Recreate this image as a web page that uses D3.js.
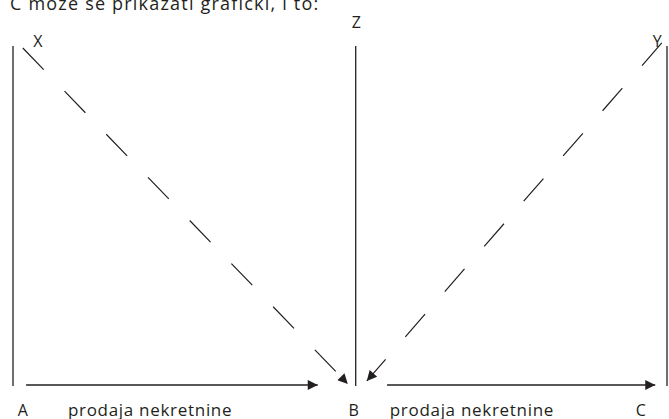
<!DOCTYPE html>
<html>
<head>
<meta charset="utf-8">
<script src="https://cdn.jsdelivr.net/npm/d3@7"></script>
<style>
  body { margin: 0; background: #fff; }
  text { font-family: "Open Sans", "Noto Sans", sans-serif; fill: #231f20; }
</style>
</head>
<body>
<div id="chart"></div>
<script>
// market points on the horizontal axis (0..100 units)
const points = ['A', 'B', 'C'];
const pointPos = [0, 52.4, 100];
const pointLabelPos = [1.5, 52.1, 96.0];
// labels above the vertical lines
const topLabels = ['X', 'Z', 'Y'];
const topLabelPos = [3.8, 52.5, 98.5];
// sale arrows along the bottom
const flowLabel = 'prodaja nekretnine';
const flowLabelPos = [8.4, 57.6];
const flows = [
    {from: 2.0, to: 46.6},
    {from: 57.2, to: 98.2}
];
// dashed arrows from the top corners down to B
const dashed = [
    {x1: 1.5, y1: 99.4, x2: 51.2, y2: 0.6},
    {x1: 99.2, y1: 100.9, x2: 54.1, y2: 1.5}
];
const caption = 'C može se prikazati grafički, i to:';

const W = 669, H = 419;
const margin = {top: 46, right: 2, bottom: 33, left: 13};

const x = d3.scaleLinear().domain([0, 100]).range([margin.left, W - margin.right]);
const y = d3.scaleLinear().domain([0, 100]).range([H - margin.bottom, margin.top]);

const svg = d3.select('#chart')
    .append('svg')
    .attr('width', W)
    .attr('height', H);

svg.append('defs').append('marker')
    .attr('id', 'head')
    .attr('viewBox', '0 0 10 10')
    .attr('refX', 10)
    .attr('refY', 5)
    .attr('markerWidth', 15)
    .attr('markerHeight', 10)
    .attr('markerUnits', 'userSpaceOnUse')
    .attr('orient', 'auto')
    .append('path')
    .attr('d', 'M0,0 L10,5 L0,10 z')
    .attr('fill', '#231f20');

// caption, cut off at the top like the scan
svg.append('text')
    .attr('x', 10)
    .attr('y', 10)
    .attr('font-size', '18px')
    .attr('letter-spacing', '1.2px')
    .text(caption);

// vertical lines
svg.selectAll('.vline')
    .data(pointPos)
    .enter().append('line')
    .attr('class', 'vline')
    .attr('x1', d => x(d)).attr('x2', d => x(d))
    .attr('y1', y(0)).attr('y2', y(100))
    .attr('stroke', '#231f20')
    .attr('stroke-width', 1.3);

// dashed arrows
svg.selectAll('.dash')
    .data(dashed)
    .enter().append('line')
    .attr('class', 'dash')
    .attr('x1', d => x(d.x1)).attr('y1', d => y(d.y1))
    .attr('x2', d => x(d.x2)).attr('y2', d => y(d.y2))
    .attr('stroke', '#231f20')
    .attr('stroke-width', 1.2)
    .attr('stroke-dasharray', '30,30')
    .attr('marker-end', 'url(#head)');

// solid sale arrows
svg.selectAll('.flow')
    .data(flows)
    .enter().append('line')
    .attr('class', 'flow')
    .attr('x1', d => x(d.from)).attr('x2', d => x(d.to))
    .attr('y1', y(0.3)).attr('y2', y(0.3))
    .attr('stroke', '#231f20')
    .attr('stroke-width', 1.3)
    .attr('marker-end', 'url(#head)');

// flow labels
svg.selectAll('.flowlabel')
    .data(flowLabelPos)
    .enter().append('text')
    .attr('class', 'flowlabel')
    .attr('x', d => x(d))
    .attr('y', H - 3)
    .attr('font-size', '17px')
    .attr('letter-spacing', '0.7px')
    .text(flowLabel);

// point labels
svg.selectAll('.plabel')
    .data(points)
    .enter().append('text')
    .attr('class', 'plabel')
    .attr('x', (d, i) => x(pointLabelPos[i]))
    .attr('y', H - 3)
    .attr('text-anchor', 'middle')
    .attr('font-size', '16px')
    .text(d => d);

// top labels
svg.selectAll('.tlabel')
    .data(topLabels)
    .enter().append('text')
    .attr('class', 'tlabel')
    .attr('x', (d, i) => x(topLabelPos[i]))
    .attr('y', (d, i) => i === 1 ? 28 : 47)
    .attr('text-anchor', 'middle')
    .attr('font-size', '16px')
    .text(d => d);
</script>
</body>
</html>
